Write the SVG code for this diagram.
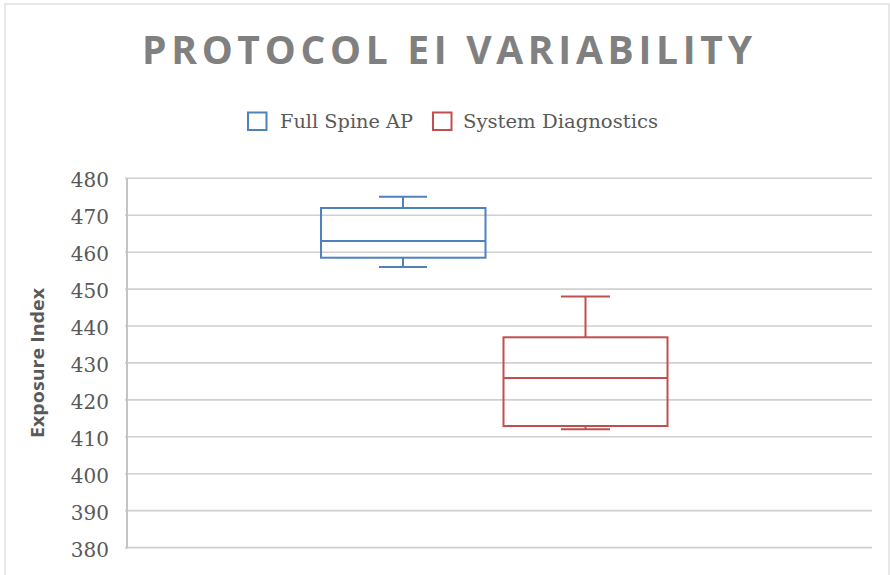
<svg xmlns="http://www.w3.org/2000/svg" width="890" height="575" viewBox="0 0 890 575">
<style>
.grid{stroke:#d0d0d0;stroke-width:1.6;fill:none}
.tick{font-family:"DejaVu Serif","Liberation Serif",serif;font-size:20px;fill:#595959;text-anchor:end;dominant-baseline:central}
.leg{font-family:"DejaVu Serif","Liberation Serif",serif;font-size:18.5px;fill:#595959}
.blue{stroke:#4F81BD;stroke-width:2;fill:none}
.red{stroke:#C0504D;stroke-width:2;fill:none}
</style>
<rect x="0" y="0" width="890" height="575" fill="#ffffff"/>
<rect x="5" y="4" width="884" height="590" fill="#ffffff" stroke="#d9d9d9" stroke-width="1.2"/>
<text x="142" y="64" font-family="'Open Sans','DejaVu Sans',sans-serif" font-weight="bold" font-size="39" fill="#808080" textLength="610" lengthAdjust="spacing">PROTOCOL EI VARIABILITY</text>
<g id="legend">
<rect x="248" y="112.5" width="18.5" height="17.5" class="blue"/>
<text x="280" y="128" class="leg" textLength="133" lengthAdjust="spacingAndGlyphs">Full Spine AP</text>
<rect x="433" y="112.5" width="18.5" height="17.5" class="red"/>
<text x="463" y="128" class="leg" textLength="195" lengthAdjust="spacingAndGlyphs">System Diagnostics</text>
</g>
<g id="grid">
<line class="grid" x1="125" y1="178.3" x2="872" y2="178.3"/>
<line class="grid" x1="125" y1="215.2" x2="872" y2="215.2"/>
<line class="grid" x1="125" y1="252.2" x2="872" y2="252.2"/>
<line class="grid" x1="125" y1="289.1" x2="872" y2="289.1"/>
<line class="grid" x1="125" y1="326.0" x2="872" y2="326.0"/>
<line class="grid" x1="125" y1="362.9" x2="872" y2="362.9"/>
<line class="grid" x1="125" y1="399.9" x2="872" y2="399.9"/>
<line class="grid" x1="125" y1="436.8" x2="872" y2="436.8"/>
<line class="grid" x1="125" y1="473.7" x2="872" y2="473.7"/>
<line class="grid" x1="125" y1="510.6" x2="872" y2="510.6"/>
<line class="grid" x1="125" y1="547.6" x2="872" y2="547.6"/>
<line x1="127" y1="178.3" x2="127" y2="548.4" stroke="#c4c4c4" stroke-width="2"/>
</g>
<g id="yaxis">
<text class="tick" x="109" y="180">480</text>
<text class="tick" x="109" y="217">470</text>
<text class="tick" x="109" y="254">460</text>
<text class="tick" x="109" y="291">450</text>
<text class="tick" x="109" y="328">440</text>
<text class="tick" x="109" y="365">430</text>
<text class="tick" x="109" y="401.5">420</text>
<text class="tick" x="109" y="438.5">410</text>
<text class="tick" x="109" y="475.5">400</text>
<text class="tick" x="109" y="512.5">390</text>
<text class="tick" x="109" y="549.5">380</text>
<text transform="translate(44,363) rotate(-90)" text-anchor="middle" font-family="'Open Sans','DejaVu Sans',sans-serif" font-weight="bold" font-size="17" fill="#595959" textLength="150" lengthAdjust="spacingAndGlyphs">Exposure Index</text>
</g>
<g id="full-spine-ap">
<rect class="blue" x="321" y="208" width="164.5" height="49.7"/>
<line class="blue" x1="321" y1="241" x2="485.5" y2="241"/>
<line class="blue" x1="403" y1="196.8" x2="403" y2="208"/>
<line class="blue" x1="379" y1="196.8" x2="427" y2="196.8"/>
<line class="blue" x1="403" y1="257.7" x2="403" y2="267"/>
<line class="blue" x1="379" y1="267" x2="427" y2="267"/>
</g>
<g id="system-diagnostics">
<rect class="red" x="503.5" y="337.3" width="164" height="88.7"/>
<line class="red" x1="503.5" y1="378" x2="667.5" y2="378"/>
<line class="red" x1="585.5" y1="296.6" x2="585.5" y2="337.3"/>
<line class="red" x1="561" y1="296.6" x2="610" y2="296.6"/>
<line class="red" x1="585.5" y1="426" x2="585.5" y2="429.3"/>
<line class="red" x1="561" y1="429.3" x2="610" y2="429.3"/>
</g>
</svg>
